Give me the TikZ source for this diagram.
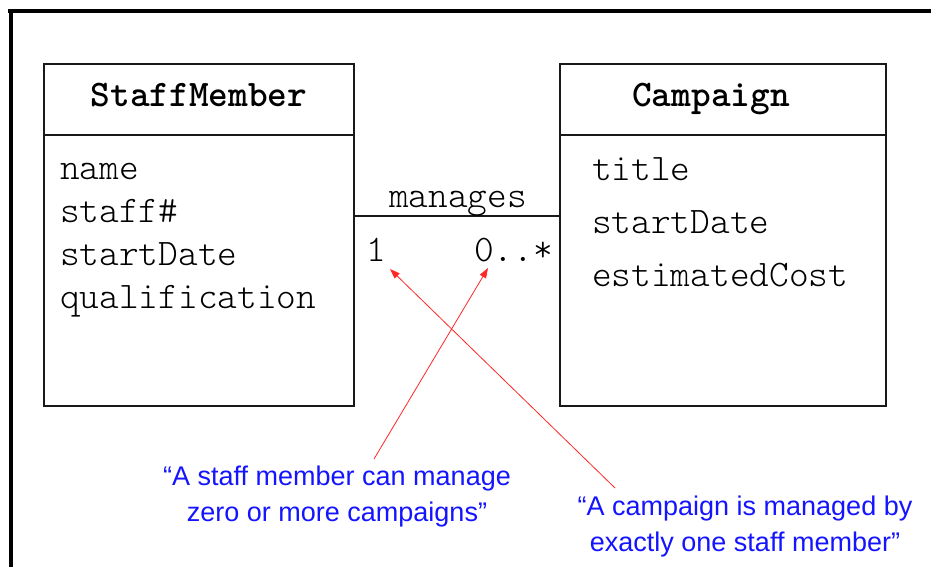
\documentclass[tikz,border=0pt]{standalone}
\usepackage{fontspec}
\setmainfont{Liberation Sans}
\newfontfamily\umllight{Latin Modern Mono Light}
\usetikzlibrary{arrows.meta}
\definecolor{noteblue}{RGB}{20,20,255}
\definecolor{linegray}{RGB}{25,25,25}
\tikzset{
  umltext/.style={font=\umllight\fontsize{37.5}{40}\selectfont, inner sep=0pt, anchor=base west},
  umlhead/.style={font=\ttfamily\bfseries\fontsize{37.5}{40}\selectfont, inner sep=0pt, anchor=base},
  umlbox/.style={draw=linegray, line width=1.4pt, inner sep=0pt},
  note/.style={text=noteblue, font=\fontsize{27}{36}\selectfont, align=center, inner sep=0pt},
  pointer/.style={draw=red!85!white, line width=0.8pt, -{Triangle[length=10pt,width=7pt]}},
  frameline/.style={line width=4pt, black}
}
\begin{document}
\begin{tikzpicture}[x=1pt,y=-1pt]
\useasboundingbox (0,0) rectangle (931,567);
% frame
\draw[frameline] (8,11) -- (931,11);
\draw[frameline] (11,9) -- (11,567);
% boxes
\node[umlbox, minimum width=310pt, minimum height=342pt] (sm) at (199,235) {};
\node[umlbox, minimum width=326pt, minimum height=342pt] (cp) at (723,235) {};
\draw[draw=linegray, line width=1.4pt] (sm.west |- 0,135) -- (sm.east |- 0,135);
\draw[draw=linegray, line width=1.4pt] (cp.west |- 0,135) -- (cp.east |- 0,135);
% headers
\node[umlhead] (smh) at (199,107) {StaffMember};
\node[umlhead] (cph) at (711,107) {Campaign};
% attributes
\node[umltext] (a1) at (60,179) {name};
\node[umltext] (a2) at (60,222) {staff\#};
\node[umltext] (a3) at (60,265) {startDate};
\node[umltext] (a4) at (60,308) {qualification};
\node[umltext] (b1) at (592,180) {title};
\node[umltext] (b2) at (592,233) {startDate};
\node[umltext] (b3) at (592,286) {estimatedCost};
% association
\coordinate (assoc) at (0,216);
\draw[draw=linegray, line width=1.4pt] (sm.east |- assoc) -- (cp.west |- assoc);
\node[umltext] (lbl) at (389,207) {manages};
\node[umltext] (m1) at (366,261) {1};
\node[umltext] (m2) at (474,261) {0..*};
% notes
\node[note] (n1) at (337,497) {``A staff member can manage\\zero or more campaigns''};
\node[note] (n2) at (745,527) {``A campaign is managed by\\exactly one staff member''};
\coordinate (s1) at (374,459);
\coordinate (s2) at (615,488);
\coordinate (t1) at (390,269);
\coordinate (t2) at (488,268);
\draw[pointer] (s1) -- (t2);
\draw[pointer] (s2) -- (t1);
\end{tikzpicture}
\end{document}
